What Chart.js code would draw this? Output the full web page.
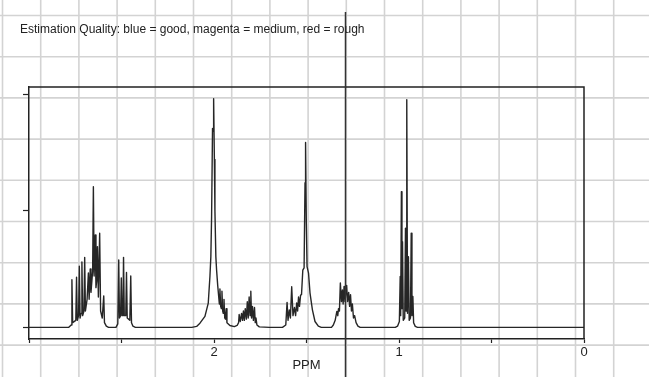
<!DOCTYPE html>
<html>
<head>
<meta charset="utf-8">
<script src="https://cdn.jsdelivr.net/npm/chart.js@4.4.1/dist/chart.umd.min.js"></script>
<style>
  html, body { margin: 0; padding: 0; background: #fff; }
  canvas { display: block; }
</style>
</head>
<body>
<canvas id="nmr" width="649" height="377"></canvas>
<script>
// ---------- Spectrum data ----------
const CAPTION = 'Estimation Quality: blue = good, magenta = medium, red = rough';
const AXIS_TITLE = 'PPM';
const LABELED_TICKS = [0, 1, 2];
const CURSOR_PPM = 1.289;

// chemical shift (ppm), region by region, high field to low
const PPM = [
    // 2.78 - 2.57 multiplet
    3.000, 2.785, 2.772, 2.768, 2.764, 2.747, 2.743, 2.739, 2.732, 2.728, 2.724, 2.718, 2.714, 2.710, 2.703, 2.699,
    2.695, 2.686, 2.679, 2.675, 2.669, 2.665, 2.660, 2.656, 2.652, 2.648, 2.642, 2.638, 2.634, 2.630, 2.625, 2.618,
    2.613, 2.604, 2.596, 2.592, 2.582, 2.570,
    // 2.52 - 2.44 multiplet
    2.530, 2.520, 2.515, 2.511, 2.505, 2.501, 2.497, 2.492, 2.489, 2.485, 2.477, 2.473, 2.469, 2.455, 2.450, 2.446,
    2.438, 2.425,
    // 2.0 singlet
    2.120, 2.094, 2.076, 2.049, 2.031, 2.022, 2.017, 2.013, 2.008, 2.005, 2.002, 1.998, 1.995, 1.990, 1.986, 1.980,
    1.971, 1.968, 1.964, 1.960, 1.957, 1.953, 1.950, 1.946, 1.942, 1.938, 1.934, 1.930, 1.914, 1.890,
    // 1.86 - 1.77 multiplet
    1.875, 1.867, 1.864, 1.858, 1.851, 1.846, 1.841, 1.836, 1.831, 1.825, 1.820, 1.815, 1.810, 1.805, 1.801, 1.797,
    1.792, 1.787, 1.781, 1.777, 1.773, 1.768, 1.755, 1.700,
    // 1.6 - 1.45 group
    1.630, 1.612, 1.605, 1.600, 1.593, 1.587, 1.580, 1.573, 1.565, 1.559, 1.553, 1.548, 1.543, 1.538, 1.532, 1.527,
    1.520, 1.513, 1.508, 1.506, 1.504, 1.501, 1.497, 1.489, 1.481, 1.468, 1.454, 1.436, 1.420,
    // 1.34 - 1.23 multiplet
    1.365, 1.355, 1.345, 1.336, 1.331, 1.327, 1.322, 1.317, 1.311, 1.306, 1.302, 1.297, 1.292, 1.283, 1.278, 1.272,
    1.267, 1.262, 1.257, 1.252, 1.246, 1.240, 1.232, 1.222, 1.210,
    // 0.95 triplet
    1.020, 1.008, 0.998, 0.9935, 0.991, 0.987, 0.984, 0.981, 0.977, 0.969, 0.965, 0.962, 0.958, 0.954, 0.949, 0.945,
    0.938, 0.934, 0.930, 0.925, 0.921, 0.912, 0.900, 0.000
];

// relative intensity, same order as PPM
const INTENSITY = [
    0, 0, 0.01, 0.204, 0.02, 0.03, 0.215, 0.03, 0.05, 0.262, 0.04, 0.06, 0.28, 0.05, 0.07, 0.30,
    0.07, 0.12, 0.233, 0.12, 0.25, 0.15, 0.20, 0.24, 0.603, 0.22, 0.396, 0.17, 0.20, 0.346, 0.13, 0.403,
    0.07, 0.04, 0.135, 0.02, 0.005, 0,

    0, 0.015, 0.289, 0.04, 0.05, 0.212, 0.05, 0.06, 0.30, 0.05, 0.05, 0.235, 0.04, 0.03, 0.22, 0.02,
    0.005, 0,

    0, 0.004, 0.018, 0.047, 0.104, 0.218, 0.303, 0.474, 0.852, 0.84, 0.98, 0.72, 0.50, 0.303, 0.246, 0.18,
    0.10, 0.165, 0.09, 0.08, 0.155, 0.07, 0.06, 0.12, 0.04, 0.035, 0.08, 0.02, 0.008, 0.003,

    0.008, 0.02, 0.055, 0.025, 0.06, 0.03, 0.07, 0.03, 0.08, 0.035, 0.11, 0.04, 0.13, 0.05, 0.155, 0.04,
    0.09, 0.03, 0.085, 0.02, 0.04, 0.01, 0.002, 0,

    0, 0.01, 0.107, 0.03, 0.075, 0.04, 0.174, 0.05, 0.085, 0.05, 0.104, 0.07, 0.13, 0.09, 0.138, 0.14,
    0.245, 0.255, 0.62, 0.60, 0.792, 0.45, 0.26, 0.232, 0.147, 0.075, 0.025, 0.005, 0,

    0, 0.01, 0.03, 0.068, 0.05, 0.08, 0.07, 0.19, 0.11, 0.16, 0.10, 0.175, 0.11, 0.18, 0.11, 0.15,
    0.09, 0.14, 0.07, 0.10, 0.04, 0.05, 0.02, 0.005, 0,

    0, 0.005, 0.025, 0.218, 0.05, 0.581, 0.08, 0.367, 0.03, 0.04, 0.425, 0.07, 0.976, 0.06, 0.303, 0.03,
    0.04, 0.403, 0.05, 0.132, 0.02, 0.004, 0, 0
];

// ---------- Styling ----------
const INK = '#222';
const FONT = "'Liberation Sans', Arial, sans-serif";

// graph-paper background that covers the whole window
const paperPlugin = {
    id: 'paper',
    beforeDraw(chart) {
        const { ctx, width, height } = chart;
        ctx.save();
        ctx.fillStyle = '#fff';
        ctx.fillRect(0, 0, width, height);
        ctx.strokeStyle = '#d3d3d3';
        ctx.lineWidth = 1.6;
        ctx.beginPath();
        for (let x = 2.5; x < width; x += 38.2) {
            ctx.moveTo(x, 0);
            ctx.lineTo(x, height);
        }
        for (let y = 15.5; y < height; y += 41.2) {
            ctx.moveTo(0, y);
            ctx.lineTo(width, y);
        }
        ctx.stroke();
        ctx.restore();
    },
    afterDraw(chart) {
        const { ctx, chartArea: a, height } = chart;
        ctx.save();
        // top and right of the frame
        ctx.strokeStyle = INK;
        ctx.lineWidth = 1.5;
        ctx.beginPath();
        ctx.moveTo(a.left, a.top);
        ctx.lineTo(a.right, a.top);
        ctx.lineTo(a.right, a.bottom);
        ctx.stroke();

        // cursor line
        const cx = Math.round(chart.scales.x.getPixelForValue(CURSOR_PPM)) - 0.5;
        ctx.strokeStyle = '#333';
        ctx.lineWidth = 1.5;
        ctx.beginPath();
        ctx.moveTo(cx, 12);
        ctx.lineTo(cx, height);
        ctx.stroke();

        // caption
        ctx.fillStyle = INK;
        ctx.font = '12px ' + FONT;
        ctx.textBaseline = 'alphabetic';
        ctx.textAlign = 'left';
        ctx.fillText(CAPTION, 20, 33);
        ctx.restore();
    }
};

const ctx = document.getElementById('nmr');

new Chart(ctx, {
    type: 'line',
    data: {
        datasets: [{
            data: PPM.map((p, i) => ({ x: p, y: INTENSITY[i] })),
            borderColor: '#262626',
            borderWidth: 1.4,
            borderJoinStyle: 'round',
            pointRadius: 0,
            tension: 0,
            fill: false
        }]
    },
    options: {
        responsive: false,
        animation: false,
        events: [],
        layout: { padding: { left: 23, right: 65, top: 87, bottom: 0 } },
        plugins: {
            legend: { display: false },
            tooltip: { enabled: false }
        },
        scales: {
            x: {
                type: 'linear',
                reverse: true,
                min: 0,
                max: 3,
                afterFit: (s) => { s.height = 38; },
                grid: { drawOnChartArea: false, drawTicks: true, tickLength: 4, color: INK, tickColor: INK, tickWidth: 1.2 },
                border: { display: true, color: INK, width: 1.5 },
                ticks: {
                    stepSize: 0.5,
                    includeBounds: false,
                    autoSkip: false,
                    maxRotation: 0,
                    padding: 2,
                    color: INK,
                    font: { family: FONT, size: 13 },
                    callback: (v) => LABELED_TICKS.includes(v) ? String(v) : ''
                },
                title: {
                    display: true,
                    text: AXIS_TITLE,
                    color: INK,
                    font: { family: FONT, size: 13 },
                    padding: { top: 0, bottom: 4 }
                }
            },
            y: {
                min: -0.05,
                max: 1.03,
                afterFit: (s) => { s.width = 6; },
                grid: { drawOnChartArea: false, drawTicks: true, tickLength: 6, color: INK, tickColor: INK, tickWidth: 1.2 },
                border: { display: true, color: INK, width: 1.5 },
                ticks: { stepSize: 0.5, includeBounds: false, padding: 0, callback: () => '' }
            }
        }
    },
    plugins: [paperPlugin]
});
</script>
</body>
</html>
